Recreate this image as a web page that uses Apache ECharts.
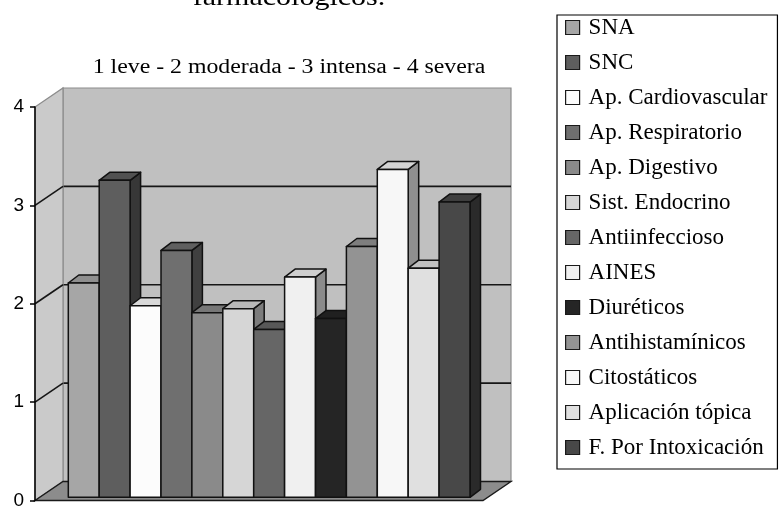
<!DOCTYPE html>
<html>
<head>
<meta charset="utf-8">
<script src="https://cdn.jsdelivr.net/npm/echarts@6/dist/echarts.min.js"></script>
<style>
  html, body { margin: 0; padding: 0; background: #ffffff; }
  #chart { width: 781px; height: 510px; }
</style>
</head>
<body>
<div id="chart"></div>
<script>
// Chart texts
const titleText = 'farmacológicos.';
const subtitleText = '1 leve - 2 moderada - 3 intensa - 4 severa';

// Drug groups (one bar each) and their mean severity score
const categories = [
  'SNA', 'SNC', 'Ap. Cardiovascular', 'Ap. Respiratorio', 'Ap. Digestivo',
  'Sist. Endocrino', 'Antiinfeccioso', 'AINES', 'Diuréticos',
  'Antihistamínicos', 'Citostáticos', 'Aplicación tópica', 'F. Por Intoxicación'
];
const severity = [2.17, 3.21, 1.94, 2.50, 1.87, 1.91, 1.70, 2.23, 1.81, 2.54, 3.32, 2.32, 2.99];

// Value axis ticks
const yTicks = [0, 1, 2, 3, 4];

// Front-face grey of every bar
const faceColors = [
  '#a6a6a6', '#5e5e5e', '#fcfcfc', '#6f6f6f', '#8a8a8a', '#d6d6d6', '#666666',
  '#f0f0f0', '#252525', '#939393', '#f7f7f7', '#e0e0e0', '#484848'
];

// Oblique depth of the chart box and of each bar, in pixels
const BOX_DX = 28, BOX_DY = -19;
const BAR_DX = 10.5, BAR_DY = -8;

function shade(hex, k) {
  const n = parseInt(hex.slice(1), 16);
  const r = Math.round(((n >> 16) & 255) * k);
  const g = Math.round(((n >> 8) & 255) * k);
  const b = Math.round((n & 255) * k);
  return 'rgb(' + r + ',' + g + ',' + b + ')';
}

const chart = echarts.init(document.getElementById('chart'), null, { renderer: 'canvas' });

// Walls, floor and gridlines of the 3D box, built on the front value axis
const frameSeries = {
  type: 'custom',
  name: '__frame',
  xAxisIndex: 0,
  yAxisIndex: 0,
  z: 2,
  silent: true,
  data: [[0, 0]],
  renderItem: function (params, api) {
    const yv = v => api.coord([0, v])[1];
    const xl = api.coord([0, 0])[0];
    const xr = api.coord([1, 0])[0];
    const y0 = yv(0), yTop = yv(yTicks[yTicks.length - 1]);
    const children = [];
    // back wall
    children.push({
      type: 'polygon',
      shape: { points: [[xl + BOX_DX, yTop + BOX_DY], [xr + BOX_DX, yTop + BOX_DY], [xr + BOX_DX, y0 + BOX_DY], [xl + BOX_DX, y0 + BOX_DY]] },
      style: { fill: '#c0c0c0', stroke: '#8c8c8c', lineWidth: 1.2 }
    });
    // gridlines on back wall
    yTicks.slice(1, -1).forEach(function (t) {
      const y = yv(t) + BOX_DY;
      children.push({
        type: 'line',
        shape: { x1: xl + BOX_DX, y1: y, x2: xr + BOX_DX, y2: y },
        style: { stroke: '#161616', lineWidth: 1.6 }
      });
    });
    // side wall
    children.push({
      type: 'polygon',
      shape: { points: [[xl, yTop], [xl + BOX_DX, yTop + BOX_DY], [xl + BOX_DX, y0 + BOX_DY], [xl, y0]] },
      style: { fill: '#cacaca', stroke: '#8c8c8c', lineWidth: 1.2 }
    });
    // diagonals on side wall
    yTicks.slice(1, -1).forEach(function (t) {
      const y = yv(t);
      children.push({
        type: 'line',
        shape: { x1: xl, y1: y, x2: xl + BOX_DX, y2: y + BOX_DY },
        style: { stroke: '#161616', lineWidth: 1.6 }
      });
    });
    // floor
    children.push({
      type: 'polygon',
      shape: { points: [[xl, y0], [xr, y0], [xr + BOX_DX, y0 + BOX_DY], [xl + BOX_DX, y0 + BOX_DY]] },
      style: { fill: '#8c8c8c', stroke: '#1a1a1a', lineWidth: 1.4 }
    });
    return { type: 'group', children: children };
  }
};

// One 3D bar per drug group
const barSeries = categories.map(function (name, i) {
  return {
    type: 'custom',
    name: name,
    xAxisIndex: 1,
    yAxisIndex: 1,
    z: 3 + i,
    itemStyle: { color: faceColors[i] },
    data: [[i, severity[i]]],
    renderItem: function (params, api) {
      const base = api.coord([api.value(0), 0]);
      const top = api.coord([api.value(0), api.value(1)]);
      const w = api.size([1, 0])[0];
      const x0 = base[0] - w / 2, x1 = base[0] + w / 2;
      const yb = base[1], yt = top[1];
      const c = faceColors[i];
      const edge = { stroke: '#111111', lineWidth: 1.5, lineJoin: 'round' };
      return {
        type: 'group',
        children: [
          {
            type: 'polygon',
            shape: { points: [[x1, yt], [x1 + BAR_DX, yt + BAR_DY], [x1 + BAR_DX, yb + BAR_DY], [x1, yb]] },
            style: Object.assign({ fill: shade(c, 0.58) }, edge)
          },
          {
            type: 'polygon',
            shape: { points: [[x0, yt], [x1, yt], [x1 + BAR_DX, yt + BAR_DY], [x0 + BAR_DX, yt + BAR_DY]] },
            style: Object.assign({ fill: shade(c, 0.86) }, edge)
          },
          {
            type: 'rect',
            shape: { x: x0, y: yt, width: w, height: yb - yt },
            style: Object.assign({ fill: c }, edge)
          }
        ]
      };
    }
  };
});

const option = {
  animation: false,
  backgroundColor: '#ffffff',
  graphic: [
    {
      type: 'text', x: 289, y: 11, scaleX: 1.2,
      style: {
        text: titleText, fill: '#000', textAlign: 'center', textVerticalAlign: 'bottom',
        font: '25px "Liberation Serif", "Times New Roman", serif'
      }
    },
    {
      type: 'text', x: 289, y: 68, scaleX: 1.19,
      style: {
        text: subtitleText, fill: '#000', textAlign: 'center', textVerticalAlign: 'middle',
        font: '20px "Liberation Serif", "Times New Roman", serif'
      }
    }
  ],
  legend: {
    data: categories,
    orient: 'vertical',
    left: 557,
    top: 15,
    padding: [1, 10, 10, 8],
    itemWidth: 14,
    itemHeight: 14,
    itemGap: 12,
    icon: 'rect',
    selectedMode: false,
    borderColor: '#000000',
    borderWidth: 1.2,
    itemStyle: { borderColor: '#1a1a1a', borderWidth: 1.2 },
    textStyle: {
      fontFamily: '"Liberation Serif", "Times New Roman", serif',
      fontSize: 23,
      lineHeight: 23,
      padding: [0, 0, 0, 4],
      color: '#000000'
    }
  },
  grid: [
    { left: 35, top: 107, width: 448, height: 395 },
    { left: 68.3, top: 102.3, width: 401.7, height: 395 }
  ],
  xAxis: [
    { type: 'value', gridIndex: 0, min: 0, max: 1, show: false },
    { type: 'category', gridIndex: 1, data: categories, show: false, boundaryGap: true }
  ],
  yAxis: [
    {
      type: 'value', gridIndex: 0, min: 0, max: 4, interval: 1, z: 30,
      axisLine: { show: true, lineStyle: { color: '#000000', width: 1.5 } },
      axisTick: { show: true, length: 5, lineStyle: { color: '#000000', width: 1.5 } },
      axisLabel: {
        color: '#000000', fontSize: 19, margin: 11,
        fontFamily: '"Liberation Sans", Arial, sans-serif'
      },
      splitLine: { show: false }
    },
    { type: 'value', gridIndex: 1, min: 0, max: 4, interval: 1, show: false }
  ],
  series: [frameSeries].concat(barSeries)
};

chart.setOption(option);
</script>
</body>
</html>
